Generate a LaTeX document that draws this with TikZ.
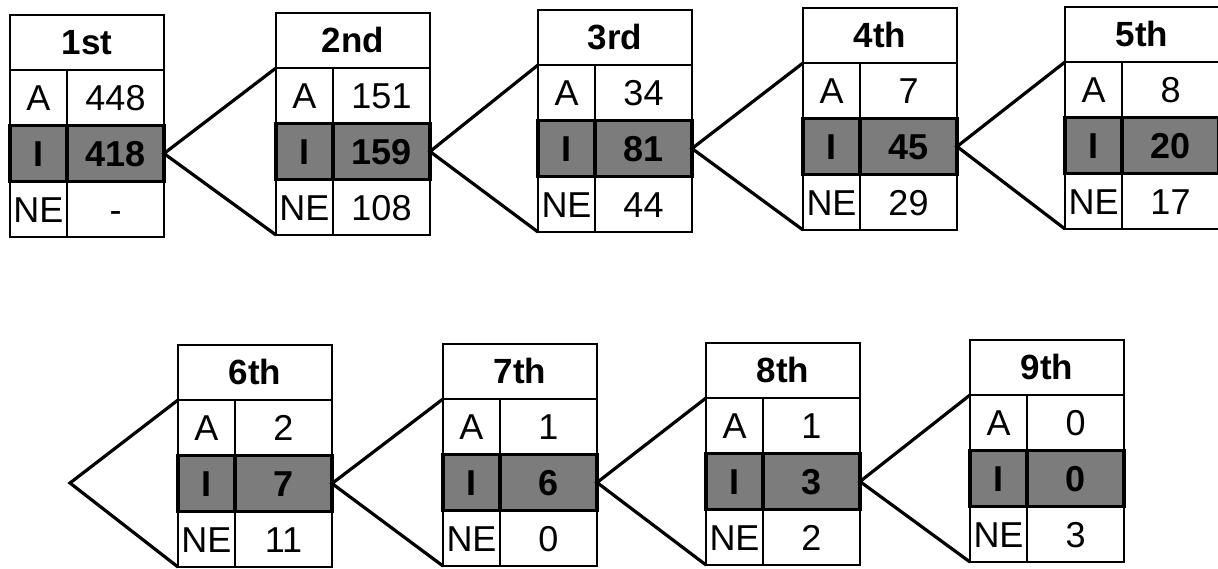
\documentclass[tikz,border=0pt]{standalone}
\usepackage{fontspec}
\setmainfont{Liberation Sans}
\definecolor{shade}{RGB}{124,124,124}
\tikzset{
  cellbase/.style={draw=black, line width=1.8pt, inner sep=0pt, outer sep=0pt,
                   anchor=north west, fill=white, text height=26pt, text depth=0pt,
                   font=\fontsize{36}{41}\selectfont},
  hdcell/.style={cellbase, minimum width=154pt, minimum height=55pt,
                 text height=23pt, font=\fontsize{35}{40}\selectfont\bfseries},
  lcell/.style={cellbase, minimum width=57pt, minimum height=55.5pt},
  rcell/.style={cellbase, minimum width=97pt, minimum height=55.5pt},
  ilcell/.style={lcell, minimum height=56pt, fill=shade, line width=3.4pt,
                 font=\fontsize{36}{41}\selectfont\bfseries},
  ircell/.style={rcell, minimum height=56pt, fill=shade, line width=3.4pt,
                 font=\fontsize{36}{41}\selectfont\bfseries},
  wedge/.style={draw=black, line width=3.2pt, line join=miter, line cap=butt}
}
% \statbox{name}{x}{y}{title}{A}{I}{NE}
\newcommand\statbox[7]{%
  \node[hdcell] (#1h) at (#2,#3) {#4};
  \node[lcell] (#1aL) at (#1h.south west) {A};
  \node[rcell] (#1aR) at (#1aL.north east) {#5};
  \node[lcell] (#1nL) at ([yshift=-56pt]#1aL.south west) {NE};
  \node[rcell] (#1nR) at (#1nL.north east) {#7};
  \node[ilcell] (#1iL) at (#1aL.south west) {I};
  \node[ircell] (#1iR) at (#1iL.north east) {#6};
}
\begin{document}
\begin{tikzpicture}[x=1pt, y=-1pt]
\useasboundingbox[fill=white] (0,0) rectangle (1218,568);

% first row of tables
\statbox{b1}{10}{15}{1st}{448}{418}{-}
\statbox{b2}{276}{13}{2nd}{151}{159}{108}
\statbox{b3}{538}{10}{3rd}{34}{81}{44}
\statbox{b4}{803}{8}{4th}{7}{45}{29}
\statbox{b5}{1065}{7}{5th}{8}{20}{17}

% second row of tables
\statbox{b6}{178}{345}{6th}{2}{7}{11}
\statbox{b7}{443}{344}{7th}{1}{6}{0}
\statbox{b8}{706}{343}{8th}{1}{3}{2}
\statbox{b9}{970}{340}{9th}{0}{0}{3}

% wedges joining each table to the next
\draw[wedge] (b2aL.north west) -- (b1iR.east) -- (b2nL.south west);
\draw[wedge] (b3aL.north west) -- (b2iR.east) -- (b3nL.south west);
\draw[wedge] (b4aL.north west) -- (b3iR.east) -- (b4nL.south west);
\draw[wedge] (b5aL.north west) -- (b4iR.east) -- (b5nL.south west);
\coordinate (tip6) at (70,483);
\draw[wedge] (b6aL.north west) -- (tip6) -- (b6nL.south west);
\draw[wedge] (b7aL.north west) -- (b6iR.east) -- (b7nL.south west);
\draw[wedge] (b8aL.north west) -- (b7iR.east) -- (b8nL.south west);
\draw[wedge] (b9aL.north west) -- (b8iR.east) -- (b9nL.south west);
\end{tikzpicture}
\end{document}
